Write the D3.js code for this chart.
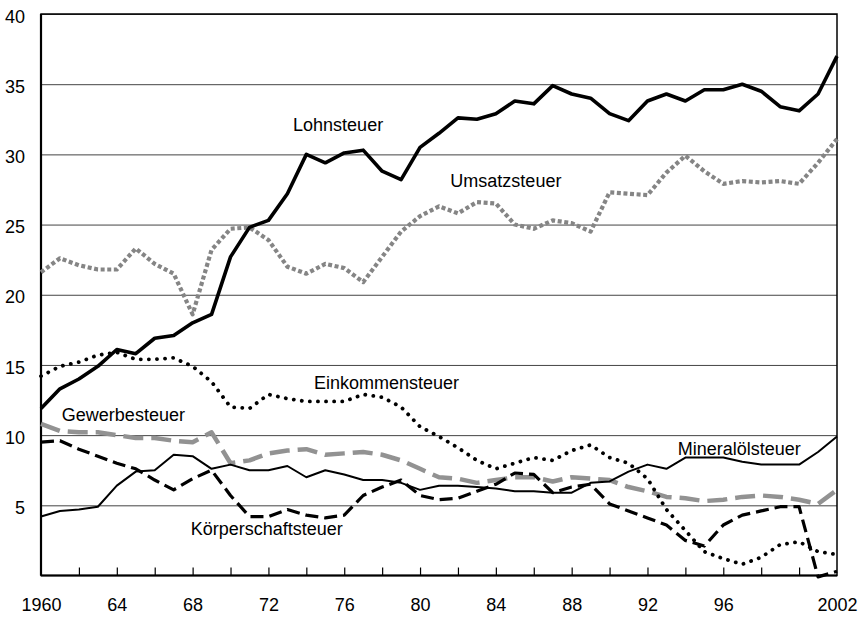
<!DOCTYPE html>
<html>
<head>
<meta charset="utf-8">
<script src="https://cdn.jsdelivr.net/npm/d3@7"></script>
<style>
  html, body { margin: 0; padding: 0; background: #fff; }
  svg { display: block; font-family: "Liberation Sans", Arial, sans-serif; }
  .lbl { font-size: 18px; fill: #000; }
</style>
</head>
<body>
<svg id="chart" width="860" height="617"></svg>
<script>
/* Anteile der Steuerarten am Steueraufkommen 1960-2002 (line chart) */

const years = d3.range(1960, 2003);

const lohnsteuer = [11.9, 13.3, 14.0, 14.9, 16.1, 15.8, 16.9, 17.1, 18.0, 18.6,
    22.7, 24.8, 25.3, 27.2, 30.0, 29.4, 30.1, 30.3, 28.8, 28.2,
    30.5, 31.5, 32.6, 32.5, 32.9, 33.8, 33.6, 34.9, 34.3, 34.0,
    32.9, 32.4, 33.8, 34.3, 33.8, 34.6, 34.6, 35.0, 34.5, 33.4,
    33.1, 34.3, 37.0];

const umsatzsteuer = [21.6, 22.6, 22.1, 21.8, 21.8, 23.3, 22.2, 21.5, 18.6, 23.2,
    24.7, 24.8, 23.9, 22.0, 21.5, 22.2, 21.9, 20.9, 22.7, 24.5,
    25.6, 26.3, 25.8, 26.6, 26.5, 25.0, 24.7, 25.3, 25.1, 24.5,
    27.3, 27.2, 27.1, 28.7, 29.9, 28.8, 27.9, 28.1, 28.0, 28.1,
    27.9, 29.4, 31.1];

const einkommensteuer = [14.2, 14.9, 15.2, 15.7, 15.9, 15.4, 15.4, 15.5, 14.9, 13.8,
    12.0, 11.9, 12.9, 12.6, 12.4, 12.4, 12.4, 12.9, 12.7, 12.0,
    10.6, 9.9, 9.1, 8.2, 7.6, 8.0, 8.4, 8.2, 8.9, 9.3,
    8.4, 8.0, 6.9, 4.7, 3.2, 1.7, 1.2, 0.8, 1.3, 2.2,
    2.4, 1.7, 1.5];

const gewerbesteuer = [10.8, 10.3, 10.2, 10.2, 10.0, 9.8, 9.8, 9.6, 9.5, 10.2,
    8.0, 8.2, 8.7, 8.9, 9.0, 8.6, 8.7, 8.8, 8.6, 8.2,
    7.6, 7.0, 6.9, 6.6, 6.8, 7.0, 7.0, 6.7, 7.0, 6.9,
    6.8, 6.3, 6.0, 5.6, 5.5, 5.3, 5.4, 5.6, 5.7, 5.6,
    5.4, 5.1, 6.1];

const koerperschaftsteuer = [9.5, 9.6, 9.0, 8.5, 8.0, 7.6, 6.8, 6.1, 6.9, 7.5,
    5.7, 4.2, 4.2, 4.7, 4.3, 4.1, 4.3, 5.7, 6.3, 6.8,
    5.7, 5.4, 5.5, 6.0, 6.5, 7.3, 7.2, 5.9, 6.3, 6.5,
    5.1, 4.6, 4.1, 3.6, 2.5, 2.1, 3.6, 4.3, 4.6, 4.9,
    4.9, -0.1, 0.3];

const mineraloelsteuer = [4.2, 4.6, 4.7, 4.9, 6.4, 7.4, 7.5, 8.6, 8.5, 7.6,
    7.9, 7.5, 7.5, 7.8, 7.0, 7.5, 7.2, 6.8, 6.8, 6.6,
    6.1, 6.4, 6.4, 6.3, 6.2, 6.0, 6.0, 5.9, 5.9, 6.6,
    6.7, 7.4, 7.9, 7.6, 8.4, 8.4, 8.4, 8.1, 7.9, 7.9,
    7.9, 8.8, 9.9];

const yTicks = [5, 10, 15, 20, 25, 30, 35, 40];
const xMinorTicks = d3.range(1962, 2001, 2);
const xLabelYears = [1960, 1964, 1968, 1972, 1976, 1980, 1984, 1988, 1992, 1996, 2002];
const xLabelText = ['1960', '64', '68', '72', '76', '80', '84', '88', '92', '96', '2002'];

(function() {
    'use strict';

    const width = 860, height = 617;
    const margin = { top: 14, right: 23, bottom: 41.5, left: 41 };
    const innerWidth = width - margin.left - margin.right;
    const innerHeight = height - margin.top - margin.bottom;

    const svg = d3.select('#chart');
    const g = svg.append('g')
        .attr('transform', `translate(${margin.left}, ${margin.top})`);

    const xScale = d3.scaleLinear().domain([1960, 2002]).range([0, innerWidth]);
    const yScale = d3.scaleLinear().domain([0, 40]).range([innerHeight, 0]);

    // Grid lines
    g.append('g')
        .attr('class', 'grid')
        .call(d3.axisLeft(yScale).tickValues(yTicks).tickSize(-innerWidth).tickFormat(''))
        .call(s => s.select('.domain').remove())
        .selectAll('line')
        .attr('stroke', '#444')
        .attr('stroke-width', 1);

    // Y labels
    g.append('g')
        .call(d3.axisLeft(yScale).tickValues(yTicks).tickSize(0).tickPadding(16))
        .call(s => s.select('.domain').remove())
        .selectAll('text')
        .attr('dy', '0.45em')
        .style('font-size', '18px')
        .style('font-family', '"Liberation Sans", Arial, sans-serif')
        .attr('fill', '#000');

    // Frame
    g.append('rect')
        .attr('x', 0).attr('y', 0)
        .attr('width', innerWidth).attr('height', innerHeight)
        .attr('fill', 'none')
        .attr('stroke', '#000')
        .attr('stroke-width', 1.5);
    g.append('line')
        .attr('x1', 0).attr('x2', 0).attr('y1', 0).attr('y2', innerHeight)
        .attr('stroke', '#000').attr('stroke-width', 2.2);
    g.append('line')
        .attr('x1', 0).attr('x2', innerWidth).attr('y1', innerHeight).attr('y2', innerHeight)
        .attr('stroke', '#000').attr('stroke-width', 2.2);

    // X ticks (inside, every 2 years)
    g.append('g')
        .attr('transform', `translate(0, ${innerHeight})`)
        .call(d3.axisBottom(xScale).tickValues(xMinorTicks).tickSize(-8).tickFormat(''))
        .call(s => s.select('.domain').remove())
        .selectAll('line')
        .attr('stroke', '#000')
        .attr('stroke-width', 1.2);

    // X labels
    g.append('g')
        .attr('transform', `translate(0, ${innerHeight})`)
        .call(d3.axisBottom(xScale).tickValues(xLabelYears).tickSize(0).tickPadding(23)
            .tickFormat((d, i) => xLabelText[i]))
        .call(s => s.select('.domain').remove())
        .selectAll('text')
        .style('font-size', '18px')
        .style('font-family', '"Liberation Sans", Arial, sans-serif')
        .attr('fill', '#000');

    const series = [
        { name: 'Gewerbesteuer', values: gewerbesteuer, color: '#929292', width: 4.5, dash: '20,8', cap: 'butt' },
        { name: 'Körperschaftsteuer', values: koerperschaftsteuer, color: '#000', width: 3.2, dash: '13,6', cap: 'butt' },
        { name: 'Mineralölsteuer', values: mineraloelsteuer, color: '#000', width: 2, dash: null, cap: 'butt' },
        { name: 'Einkommensteuer', values: einkommensteuer, color: '#000', width: 3.8, dash: '0.1,8', cap: 'round' },
        { name: 'Umsatzsteuer', values: umsatzsteuer, color: '#858585', width: 4.2, dash: '4,2.6', cap: 'butt' },
        { name: 'Lohnsteuer', values: lohnsteuer, color: '#000', width: 3.6, dash: null, cap: 'butt' }
    ];

    const line = d3.line()
        .x((d, i) => xScale(years[i]))
        .y(d => yScale(d));

    g.selectAll('.series')
        .data(series)
        .enter()
        .append('path')
        .attr('class', 'series')
        .attr('d', d => line(d.values))
        .attr('fill', 'none')
        .attr('stroke', d => d.color)
        .attr('stroke-width', d => d.width)
        .attr('stroke-dasharray', d => d.dash)
        .attr('stroke-linecap', d => d.cap)
        .attr('stroke-linejoin', 'round');

    // Series labels
    const labels = [
        { text: 'Lohnsteuer', year: 1973.3, value: 31.7 },
        { text: 'Umsatzsteuer', year: 1981.6, value: 27.7 },
        { text: 'Einkommensteuer', year: 1974.4, value: 13.3 },
        { text: 'Gewerbesteuer', year: 1961.1, value: 11.0 },
        { text: 'Körperschaftsteuer', year: 1967.9, value: 2.85 },
        { text: 'Mineralölsteuer', year: 1993.6, value: 8.6 }
    ];

    g.selectAll('.lbl')
        .data(labels)
        .enter()
        .append('text')
        .attr('class', 'lbl')
        .attr('x', d => xScale(d.year))
        .attr('y', d => yScale(d.value))
        .text(d => d.text);
})();
</script>
</body>
</html>
